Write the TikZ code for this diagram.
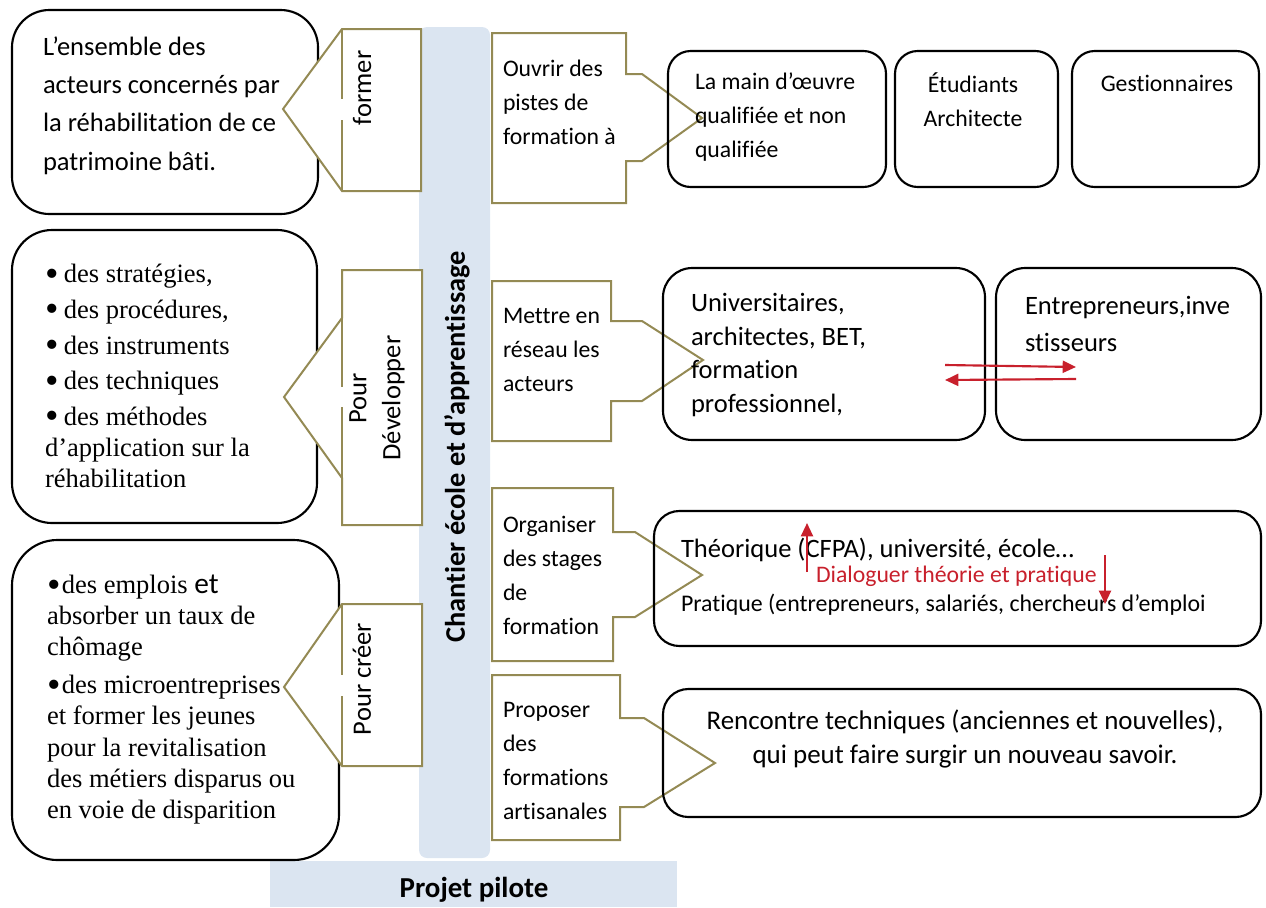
\documentclass[tikz,border=0pt]{standalone}
\usepackage{fontspec}
\setmainfont{Carlito}[Ligatures=NoCommon]
\newfontfamily\timesfam{Liberation Serif}
\newfontfamily\calfam{Carlito}[Ligatures=NoCommon]
\usetikzlibrary{arrows.meta}
\definecolor{barblue}{RGB}{219,229,241}
\definecolor{calloutolive}{RGB}{148,138,84}
\definecolor{dialred}{RGB}{200,32,44}
\newcommand\sizeL{\fontsize{19.9pt}{28.7pt}\selectfont}
\newcommand\sizeM{\fontsize{17.8pt}{25.7pt}\selectfont}
\newcommand\bigbullet{\raisebox{-2.6pt}{\scalebox{1.45}{•}}}
\begin{document}
\begin{tikzpicture}[x=0.75pt,y=-0.75pt,
  blackbox/.style={draw=black,line width=1.6pt},
  callout/.style={draw=calloutolive,line width=1.5pt,fill=white,line join=miter},
  calloutedge/.style={draw=calloutolive,line width=1.5pt},
  txt/.style={inner sep=0pt,outer sep=0pt,anchor=west,align=left},
  rottxt/.style={inner sep=0pt,outer sep=0pt,rotate=90,align=center},
  redarrow/.style={draw=dialred,line width=1.6pt,-{Triangle[length=10pt,width=9pt]}},
]
\useasboundingbox (0,0) rectangle (1266,907);

% central bar and base bar
\fill[barblue,rounded corners=6pt] (419,27) rectangle (490,858);
\fill[barblue] (270,907) -- (270,861) -- (677,861) -- (677,907) -- cycle;
\node[rottxt,font=\bfseries\fontsize{21.3pt}{24pt}\selectfont] (chantier) at (457,447) {Chantier école et d’apprentissage};
\node[inner sep=0pt,font=\bfseries\fontsize{21.7pt}{24pt}\selectfont] (pilote) at (474,890) {Projet pilote};

% left rounded boxes
\draw[blackbox,rounded corners=28pt] (12,10) rectangle (318,214);
\draw[blackbox,rounded corners=30pt] (12,230) rectangle (317,523);
\draw[blackbox,rounded corners=34pt] (12,540) rectangle (339,860);

% left-pointing callouts
\draw[callout] (421,29) -- (342,29) -- (283,109) -- (342,191) -- (421,191) -- cycle;
\draw[calloutedge] (342,29) -- (342,99) (342,120) -- (342,191);
\draw[callout] (422,270) -- (342,270) -- (342,318) -- (284,397) -- (342,478) -- (342,525) -- (422,525) -- cycle;
\draw[calloutedge] (342,318) -- (342,387) (342,407) -- (342,478);
\draw[callout] (422,604) -- (342,604) -- (284,687) -- (342,766) -- (422,766) -- cycle;
\draw[calloutedge] (342,604) -- (342,675) (342,696) -- (342,766);

\node[rottxt,font=\fontsize{19.9pt}{24pt}\selectfont] (former) at (362,88) {former};
\node[rottxt,font=\fontsize{19.9pt}{25.5pt}\selectfont] (dev) at (377,398) {Pour\\Développer};
\node[rottxt,font=\fontsize{19.9pt}{24pt}\selectfont] (creer) at (362,679) {Pour créer};

% right-pointing callouts
\draw[callout] (492,33) -- (626,33) -- (626,74) -- (642,74) -- (702,118) -- (642,161) -- (626,161) -- (626,203) -- (492,203) -- cycle;
\draw[callout] (492,281) -- (611,281) -- (611,321) -- (642,321) -- (703,360) -- (642,401) -- (611,401) -- (611,441) -- (492,441) -- cycle;
\draw[callout] (492,488) -- (613,488) -- (613,532) -- (635,532) -- (702,575) -- (635,617) -- (613,617) -- (613,661) -- (492,661) -- cycle;
\draw[callout] (492,675) -- (620,675) -- (620,718) -- (644,718) -- (715,763) -- (644,807) -- (620,807) -- (620,840) -- (492,840) -- cycle;

\node[txt,font=\sizeM] (ouvrir) at (503,102.5) {Ouvrir des\\pistes de\\formation à};
\node[txt,font=\sizeM] (mettre) at (503,350) {Mettre en\\réseau les\\acteurs};
\node[txt,font=\sizeM] (organiser) at (503,575.5) {Organiser\\des stages\\de\\formation};
\node[txt,font=\sizeM] (proposer) at (503,761) {Proposer\\des\\formations\\artisanales};

% right rounded boxes
\draw[blackbox,rounded corners=17pt] (668,51) rectangle (886,187);
\draw[blackbox,rounded corners=17pt] (895,51) rectangle (1058,187);
\draw[blackbox,rounded corners=17pt] (1072,51) rectangle (1259,187);
\draw[blackbox,rounded corners=22pt] (663,268) rectangle (985,440);
\draw[blackbox,rounded corners=22pt] (996,268) rectangle (1261,440);
\draw[blackbox,rounded corners=19pt] (654,511) rectangle (1261,646);
\draw[blackbox,rounded corners=19pt] (663,689) rectangle (1261,817);

% texts of the left boxes
\node[txt,font=\sizeL] (acteurs) at (43,105.5) {L’ensemble des\\acteurs concernés par\\la réhabilitation de ce\\patrimoine bâti.};
\node[txt,font=\timesfam\fontsize{19.9pt}{23.3pt}\selectfont] (outils) at (45,376)
  {\bigbullet\hspace{4pt}des stratégies,\\[3.4pt]\bigbullet\hspace{4pt}des procédures,\\[3.4pt]\bigbullet\hspace{4pt}des instruments\\[3.4pt]\bigbullet\hspace{4pt}des techniques\\[3.4pt]\bigbullet\hspace{4pt}des méthodes\\d’application sur la\\réhabilitation};
\node[txt,font=\timesfam\fontsize{19.9pt}{23.3pt}\selectfont] (emplois) at (47,699.5)
  {\bigbullet\hspace{1pt}des emplois {\calfam\fontsize{22pt}{23.3pt}\selectfont et}\\absorber un taux de\\chômage\\[5.2pt]\bigbullet\hspace{1pt}des microentreprises\\et former les jeunes\\pour la revitalisation\\des métiers disparus ou\\en voie de disparition};

% texts of the right boxes
\node[txt,font=\fontsize{17.8pt}{25.5pt}\selectfont] (main) at (695,117.5) {La main d’œuvre\\qualifiée et non\\qualifiée};
\node[inner sep=0pt,align=center,font=\fontsize{17.8pt}{25.5pt}\selectfont] (etud) at (973,100) {Étudiants\\Architecte};
\node[inner sep=0pt,font=\fontsize{17.8pt}{25.5pt}\selectfont] (gest) at (1167,83) {Gestionnaires};
\node[txt,font=\fontsize{19.9pt}{25.2pt}\selectfont] (univ) at (691,355) {Universitaires,\\architectes, BET,\\formation\\professionnel,};
\node[txt,font=\fontsize{19.9pt}{27.7pt}\selectfont] (entr) at (1025,323.5) {Entrepreneurs,inve\\stisseurs};
\node[txt,font=\fontsize{19.9pt}{24pt}\selectfont] (theo) at (681,550) {Théorique (CFPA), université, école…};
\node[txt,font=\fontsize{17.8pt}{24pt}\selectfont,text=dialred] (dial) at (816,576) {Dialoguer théorie et pratique};
\node[txt,font=\fontsize{17.9pt}{24pt}\selectfont] (prat) at (681,605) {Pratique (entrepreneurs, salariés, chercheurs d’emploi};
\node[inner sep=0pt,align=center,font=\fontsize{20.2pt}{25.5pt}\selectfont] (renc) at (965,739) {Rencontre techniques (anciennes et nouvelles),\\qui peut faire surgir un nouveau savoir.};

% red exchange arrows
\coordinate (ra1) at (945,365);
\coordinate (ra2) at (1076,367);
\coordinate (rb1) at (1076,379);
\coordinate (rb2) at (945,380);
\draw[redarrow] (ra1) -- (ra2);
\draw[redarrow] (rb1) -- (rb2);
\coordinate (up1) at (807,572);
\coordinate (up2) at (807,523);
\coordinate (dn1) at (1105,555);
\coordinate (dn2) at (1105,604);
\draw[redarrow] (up1) -- (up2);
\draw[redarrow] (dn1) -- (dn2);
\end{tikzpicture}
\end{document}
